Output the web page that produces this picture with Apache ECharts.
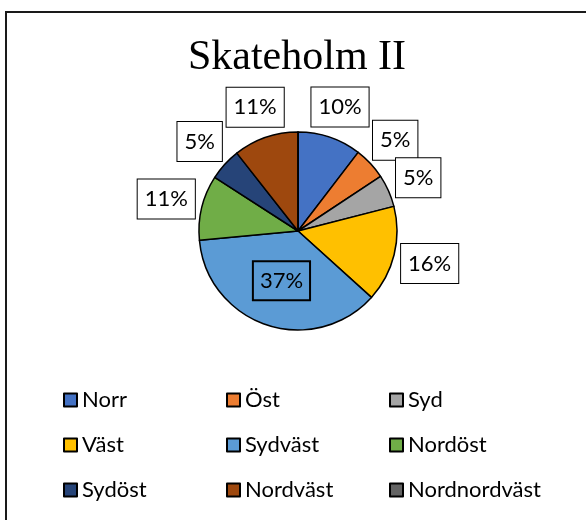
<!DOCTYPE html>
<html>
<head>
<meta charset="utf-8">
<script src="https://cdn.jsdelivr.net/npm/echarts@6/dist/echarts.min.js"></script>
<style>
html, body { margin: 0; padding: 0; background: #fff; overflow: hidden; }
#frame { position: absolute; left: 5px; top: 11px; width: 700px; height: 700px; border: 2px solid #1a1a1a; }
#chart { position: absolute; left: 0; top: 0; width: 594px; height: 520px; }
</style>
</head>
<body>
<div id="frame"></div>
<div id="chart"></div>
<script>
// Skateholm II - share per direction (%)
var categories = ['Norr', 'Öst', 'Syd', 'Väst', 'Sydväst', 'Nordöst', 'Sydöst', 'Nordväst', 'Nordnordväst'];
var shares = [10.4, 5.3, 5.3, 15.7, 36.8, 10.6, 5.3, 10.6, 0];
var colors = ['#4472C4', '#ED7D31', '#A5A5A5', '#FFC000', '#5B9BD5', '#70AD47', '#264478', '#9E480E', '#636363'];
var insideLabels = ['Sydväst'];

var pieCenter = [298, 231];
var pieRadius = 99;
var labelGap = 3;

var chart = echarts.init(document.getElementById('chart'));

var pieData = categories.map(function (name, i) {
	var item = { name: name, value: shares[i], itemStyle: { color: colors[i] } };
	if (insideLabels.indexOf(name) >= 0) {
		item.label = { position: 'inside', backgroundColor: 'transparent' };
		item.labelLine = { show: false };
	}
	if (shares[i] === 0) {
		item.label = { show: false };
		item.labelLine = { show: false };
	}
	return item;
});

chart.setOption({
	animation: false,
	color: colors,
	title: {
		text: 'Skateholm II',
		left: 'center',
		top: 35,
		padding: 0,
		textStyle: { fontFamily: 'Liberation Serif', fontSize: 42, fontWeight: 'normal', color: '#000', lineHeight: 46 }
	},
	legend: {
		data: categories,
		orient: 'horizontal',
		left: 63,
		top: 388,
		width: 480,
		padding: 0,
		icon: 'rect',
		itemWidth: 13,
		itemHeight: 13,
		itemGap: 21,
		textStyle: { fontFamily: 'Lato', fontSize: 22, color: '#000', width: 123, lineHeight: 24, overflow: 'none' }
	},
	series: [{
		type: 'pie',
		center: pieCenter,
		radius: pieRadius,
		startAngle: 90,
		clockwise: true,
		avoidLabelOverlap: false,
		emphasis: { disabled: true },
		itemStyle: { borderColor: '#000', borderWidth: 1.5 },
		label: {
			show: true,
			position: 'outside',
			formatter: function (p) { return Math.round(p.percent) + '%'; },
			fontFamily: 'Lato',
			fontSize: 22,
			color: '#000',
			lineHeight: 24,
			padding: [8, 7, 7, 7],
			backgroundColor: '#fff',
			borderColor: '#000',
			borderWidth: 1
		},
		labelLine: { show: true, length: 10, length2: 0, lineStyle: { opacity: 0 } },
		labelLayout: function (p) {
			var name = categories[p.dataIndex];
			if (insideLabels.indexOf(name) >= 0 || !p.labelLinePoints) return {};
			// push the box out along the slice's middle direction, just clear of the rim
			var e = p.labelLinePoints[0];
			var dx = e[0] - pieCenter[0], dy = e[1] - pieCenter[1];
			var len = Math.sqrt(dx * dx + dy * dy) || 1;
			dx /= len; dy /= len;
			var hw = p.labelRect.width / 2, hh = p.labelRect.height / 2;
			var d = labelGap + hw * Math.abs(dx) + hh * Math.abs(dy);
			return { x: e[0] + dx * d, y: e[1] + dy * d, align: 'center', verticalAlign: 'middle' };
		},
		data: pieData
	}]
});
</script>
</body>
</html>
